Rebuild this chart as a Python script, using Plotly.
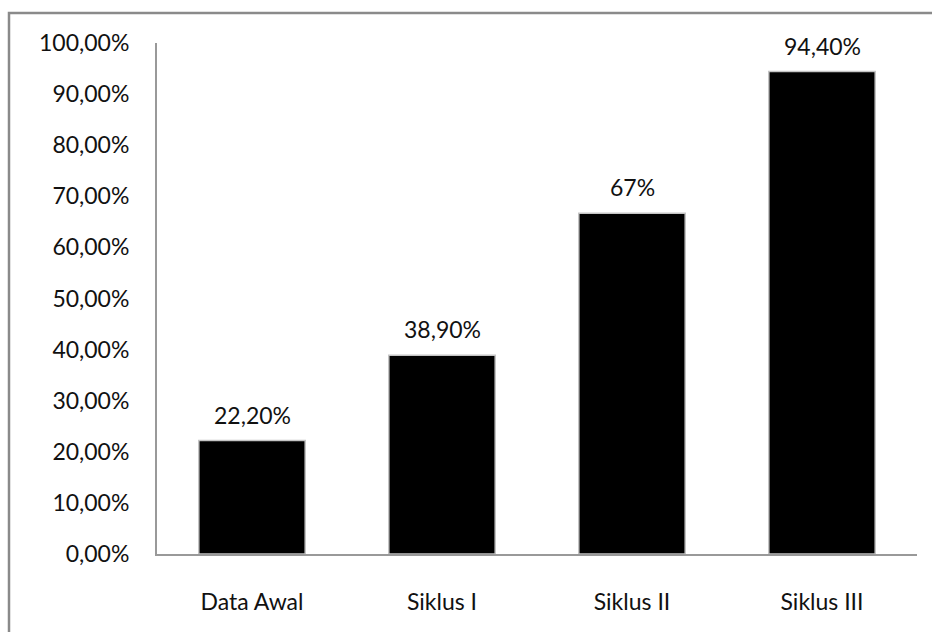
import plotly.graph_objects as go

categories = ["Data Awal", "Siklus I", "Siklus II", "Siklus III"]
values = [0.222, 0.389, 0.667, 0.944]
labels = ["22,20%", "38,90%", "67%", "94,40%"]
ytick_vals = [i / 10 for i in range(11)]

FONT = "Lato, Open Sans, sans-serif"
FS = 23

fig = go.Figure()
fig.add_trace(go.Bar(
    x=categories, y=values,
    marker=dict(color="black", line=dict(color="#c4c4c4", width=1.5)),
    width=0.56,
    hoverinfo="skip",
))

for c, v, t in zip(categories, values, labels):
    fig.add_annotation(x=c, y=v, text=t, showarrow=False, yshift=26,
                       font=dict(family=FONT, size=FS, color="#111"))

fig.update_layout(
    width=932, height=632,
    margin=dict(l=157, r=15, t=43, b=78),
    paper_bgcolor="white", plot_bgcolor="white",
    separators=",.",
    showlegend=False,
    font=dict(family=FONT, size=FS, color="#111"),
    xaxis=dict(showline=True, linecolor="#999", linewidth=2,
               ticks="outside", ticklen=26, tickcolor="rgba(0,0,0,0)",
               showgrid=False, tickfont=dict(size=FS)),
    yaxis=dict(range=[0, 1], tickvals=ytick_vals, tickformat=".2%",
               showline=True, linecolor="#999", linewidth=2,
               ticks="outside", ticklen=21, tickcolor="rgba(0,0,0,0)",
               showgrid=False, zeroline=False, tickfont=dict(size=FS)),
    shapes=[dict(type="rect", xref="paper", yref="paper",
                 x0=-148 / 760, x1=20 / 760 + 1, y0=-90 / 511, y1=1 + 30 / 511,
                 line=dict(color="#8a8a8a", width=2.5), fillcolor="rgba(0,0,0,0)",
                 layer="below")],
)

fig.write_html("out.html")
